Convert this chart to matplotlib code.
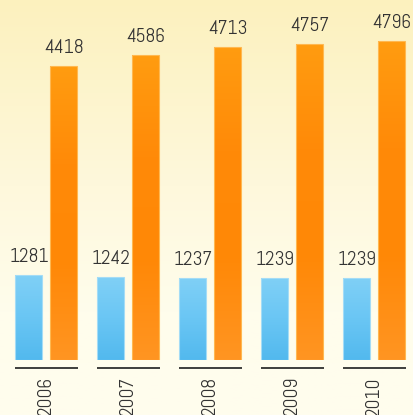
import numpy as np
import matplotlib
matplotlib.use("Agg")
import matplotlib.pyplot as plt
from matplotlib.colors import LinearSegmentedColormap
from matplotlib import transforms

years = ["2006", "2007", "2008", "2009", "2010"]
blue_values = [1281, 1242, 1237, 1239, 1239]
orange_values = [4418, 4586, 4713, 4757, 4796]

W, H = 413, 415
fig = plt.figure(figsize=(W / 100, H / 100), dpi=100)

# background gradient
bg = fig.add_axes([0, 0, 1, 1])
bg.set_axis_off()
grad = np.linspace(0, 1, 256).reshape(-1, 1)
bg_cmap = LinearSegmentedColormap.from_list(
    "bg", [(0, "#FCF1BE"), (0.45, "#FEF8DC"), (0.75, "#FFFDEC"), (1, "#FFFDEE")])
bg.imshow(grad, aspect="auto", cmap=bg_cmap, extent=[0, 1, 0, 1], origin="upper")
bg.set_xlim(0, 1)
bg.set_ylim(0, 1)

bottom_px = 55
ax = fig.add_axes([0, bottom_px / H, 1, (H - bottom_px) / H])
ax.patch.set_alpha(0)
for s in ax.spines.values():
    s.set_visible(False)
ax.set_xticks([])
ax.set_yticks([])

spacing = 82.0
x = np.arange(len(years))
scale = 0.06646
xlim = (-46 / spacing, (W - 46) / spacing)
ylim = (0, (H - bottom_px) / scale)

bw = 27 / spacing
off = 17.5 / spacing

blue_cmap = LinearSegmentedColormap.from_list("b", ["#80D0F6", "#6AC6F4", "#52B9EE"])
orange_cmap = LinearSegmentedColormap.from_list("o", ["#FF9C10", "#FF8A08", "#FF8806", "#FF9522"])

def grad_bar(xc, h, cmap, edge):
    bars = ax.bar(xc, h, width=bw, color="none", edgecolor=edge, linewidth=0.8, zorder=3)
    for b in bars:
        img = ax.imshow(grad, aspect="auto", cmap=cmap,
                        extent=[b.get_x(), b.get_x() + b.get_width(), 0, b.get_height()],
                        origin="upper", zorder=2)
        img.set_clip_path(b)
    return bars

grad_bar(x - off, blue_values, blue_cmap, "#A4DCF6")
grad_bar(x + off, orange_values, orange_cmap, "#FFB850")
ax.set_xlim(*xlim)
ax.set_ylim(*ylim)

font = ["Abel", "DejaVu Sans"]
for xs, vals in ((x - off, blue_values), (x + off, orange_values)):
    for xi, v in zip(xs, vals):
        ax.annotate(str(v), (xi, v), xytext=(0.5, 6.5), textcoords="offset points",
                    ha="center", va="bottom", fontsize=14, color="#333333",
                    family=font, zorder=5)

# group underlines and year labels
trans_line = transforms.blended_transform_factory(ax.transData, fig.transFigure)
for xi, yr in zip(x, years):
    ax.plot([xi - off - bw / 2, xi + off + bw / 2 + 1 / spacing], [47 / H, 47 / H],
            color="#1E1E1E", lw=1.2, transform=trans_line, clip_on=False, solid_capstyle="butt")
    ax.text(xi, 38 / H, yr, rotation=90, ha="center", va="top", fontsize=14,
            color="#333333", family=font, transform=trans_line, clip_on=False)

fig.savefig("out.png", dpi=100)
